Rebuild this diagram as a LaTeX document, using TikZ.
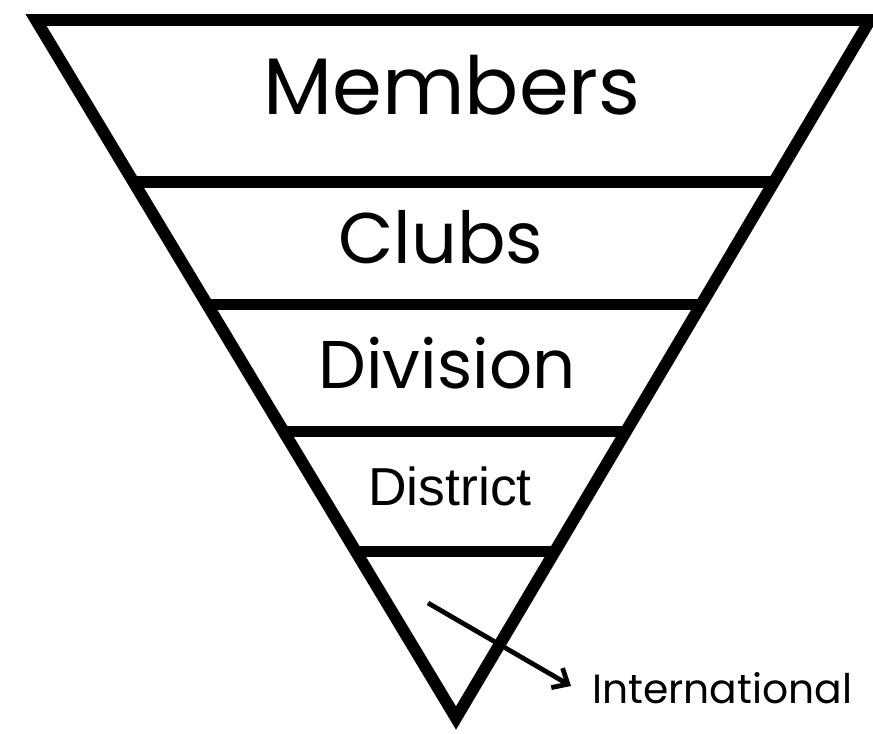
\documentclass[tikz,border=0pt]{standalone}
\usepackage{fontspec}
\setmainfont{Poppins}
\newfontfamily\arialfont{Liberation Sans}
\usetikzlibrary{calc,arrows.meta}
\begin{document}
\begin{tikzpicture}[x=0.025cm,y=-0.025cm,
  edge/.style={line width=8.5pt,line join=miter},
  tier/.style={line width=8pt},
  label/.style={inner sep=0pt,anchor=base}]
\useasboundingbox (0,0) rectangle (873,734);
% outer funnel
\coordinate (tl) at (36,20);\coordinate (tr) at (870,20);\coordinate (apex) at (456,718);
\draw[edge] (tl)--(tr)--(apex)--cycle;
% tier separators
\foreach \t in {.232,.408,.590,.762}{
  \draw[tier] ($(tl)!\t!(apex)$)--($(tr)!\t!(apex)$);
}
\node[label,font=\fontsize{57}{60}\selectfont] (members) at (452,115) {Members};
\node[label,font=\fontsize{51}{53}\selectfont] (clubs) at (441,264) {Clubs};
\node[label,font=\fontsize{48}{50}\selectfont] (division) at (447,388) {Division};
\node[label,font=\arialfont\fontsize{38}{40}\selectfont] (district) at (450,505) {District};
\node[label,anchor=base west,font=\fontsize{29}{31}\selectfont] (intl) at (592,703) {International};
\coordinate (intlstart) at (428,603);\coordinate (intlend) at (571,686);
\draw[line width=3.4pt,-{Straight Barb[length=9pt,width=16pt,line width=3.4pt]}] (intlstart)--(intlend);
\end{tikzpicture}
\end{document}
